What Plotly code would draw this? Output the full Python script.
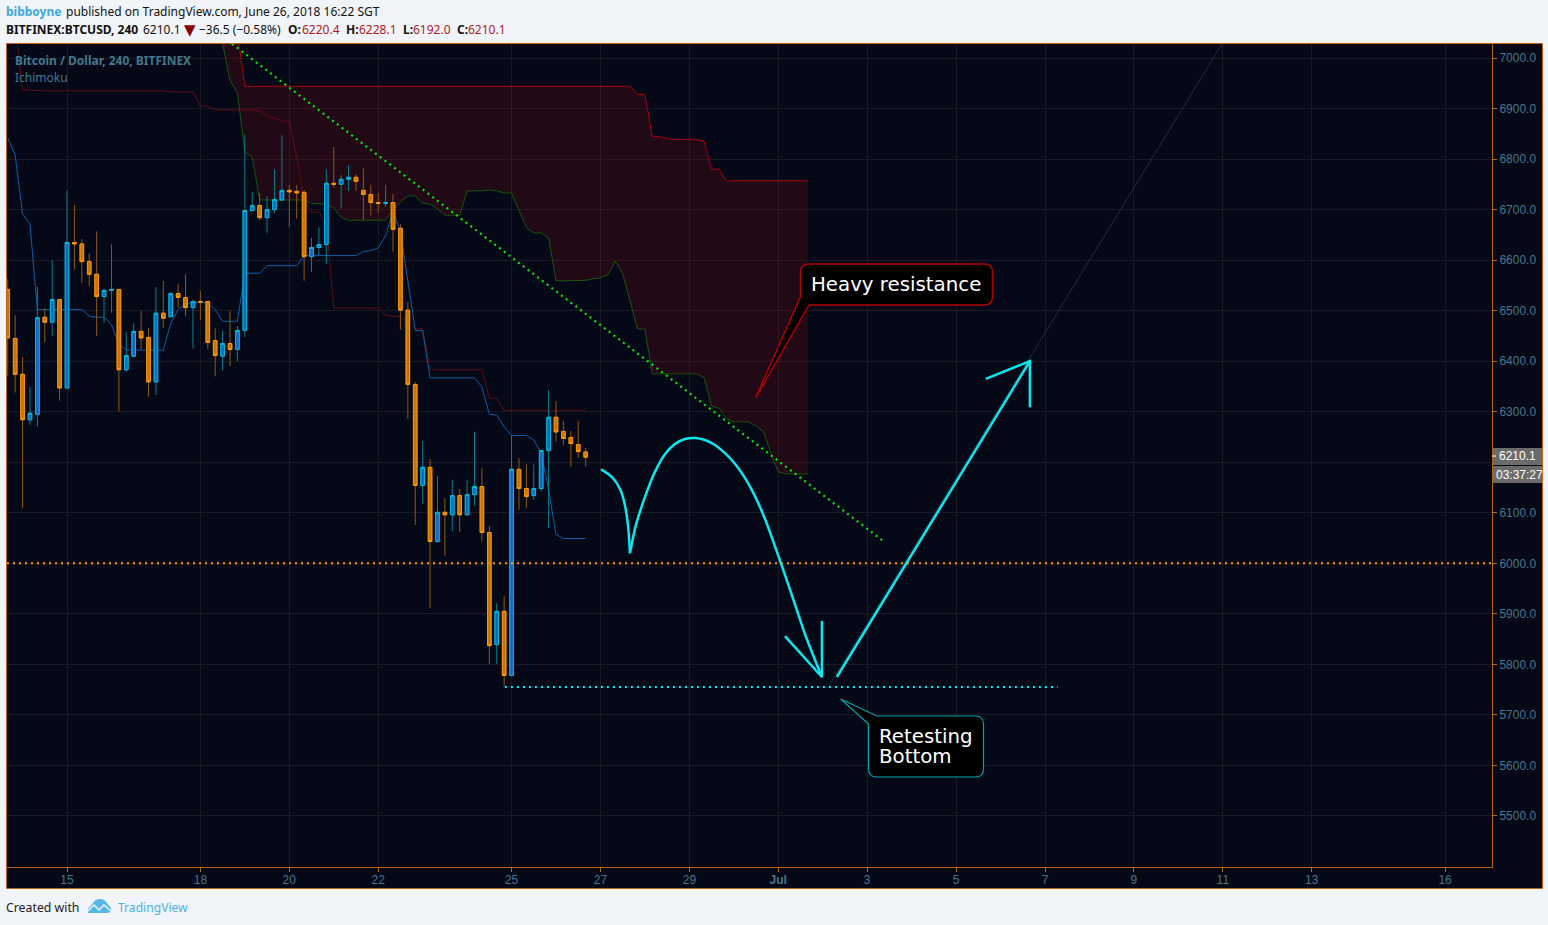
import plotly.graph_objects as go

# ---- candles (4h bars) ----
opens = [6542,6445,6374,6284,6295,6487,6477,6522,6347,6635,6632,6597,6572,6528,6540,6542,6383,6410,6459,6447,
         6359,6495,6488,6534,6526,6506,6518,6518,6441,6410,6435,6423,6461,6698,6708,6684,6700,6719,6738,6736,
         6734,6607,6625,6631,6752,6750,6760,6764,6738,6730,6714,6712,6714,6663,6501,6354,6154,6190,6043,6101,
         6096,6134,6096,6136,6152,6061,5839,5905,5778,6186,6148,6134,6148,6223,6289,6261,6249,6235,6220.4]
highs = [6562,6491,6408,6349,6547,6505,6600,6522,6737,6709,6642,6613,6657,6544,6631,6542,6457,6475,6499,6465,
         6547,6559,6536,6553,6572,6522,6539,6518,6465,6460,6499,6470,6849,6735,6732,6727,6780,6847,6749,6749,
         6739,6644,6665,6780,6824,6768,6788,6770,6782,6749,6733,6749,6731,6671,6517,6359,6242,6206,6173,6129,
         6165,6147,6165,6260,6188,6074,5921,5935,6253,6208,6196,6196,6225,6343,6321,6282,6262,6282,6228.1]
lows = [6371,6338,6109,6274,6270,6437,6450,6322,6347,6581,6555,6549,6450,6476,6496,6300,6379,6410,6424,6330,
        6333,6466,6486,6506,6489,6425,6481,6424,6370,6382,6390,6400,6448,6698,6679,6654,6692,6719,6665,6682,
        6559,6577,6609,6593,6743,6702,6737,6737,6680,6688,6694,6705,6617,6462,6286,6076,6118,5911,6043,6015,
        6063,6062,6096,6114,6043,5801,5801,5756,5776,6105,6109,6125,6142,6070,6241,6233,6191,6209,6192.0]
closes = [6446,6374,6284,6297,6486,6477,6522,6347,6635,6632,6597,6572,6528,6540,6542,6383,6411,6459,6446,6359,
          6495,6485,6534,6526,6506,6518,6517,6437,6411,6435,6423,6461,6698,6708,6684,6700,6720,6738,6735,6733,
          6607,6625,6631,6752,6750,6760,6764,6756,6730,6714,6712,6714,6661,6501,6354,6154,6190,6043,6101,6096,
          6134,6096,6136,6152,6061,5837,5905,5778,6186,6148,6132,6148,6223,6289,6260,6247,6237,6221,6210.1]

# ---- Ichimoku ----
conversion = [6842,6808,6692,6671,6502,6502,6502,6502,6502,6502,6502,6489,6487,6487,6472,6434,6422,6422,6422,6422,
              6422,6422,6475,6502,6514,6516,6516,6516,6502,6479,6479,6479,6574,6574,6574,6589,6589,6589,6589,6589,
              6609,6609,6609,6609,6609,6609,6609,6609,6617,6619,6624,6648,6697,6657,6559,6461,6461,6367,6367,6367,
              6367,6367,6367,6367,6349,6295,6293,6270,6253,6253,6253,6244,6218,6145,6057,6049,6049,6049,6049]
base_line = [7100,7067,6937,6936,6935,6935,6935,6935,6935,6935,6935,6935,6935,6935,6935,6935,6935,6935,6935,6935,
             6935,6935,6933,6933,6933,6933,6905,6905,6897,6897,6897,6897,6897,6897,6895,6885,6881,6875,6875,6804,
             6719,6695,6695,6673,6505,6505,6505,6505,6505,6505,6505,6491,6489,6489,6476,6464,6464,6383,6383,6383,
             6383,6383,6383,6383,6383,6327,6327,6303,6303,6303,6303,6303,6303,6303,6303,6303,6303,6303,6303]
cloud_start = 28
span_a = [7100,7028,6956,6931,6814,6804,6719,6719,6719,6719,6719,6719,6719,6712,6711,6711,6703,6685,6679,6679,
          6679,6679,6679,6679,6699,6715,6727,6727,6713,6711,6701,6689,6689,6689,6737,6737,6737,6739,6737,6733,
          6733,6699,6664,6654,6654,6644,6559,6559,6559,6559,6560,6563,6565,6571,6598,6573,6521,6464,6464,6375,
          6375,6375,6375,6375,6375,6375,6367,6311,6307,6287,6280,6280,6280,6272,6260,6218,6181,6177,6177,6177,6177]
span_b = [7250,7200,7166,7049,6944,6944,6944,6944,6944,6944,6944,6944,6944,6944,6944,6944,6944,6944,6944,6944,
          6944,6944,6944,6944,6944,6944,6944,6944,6944,6944,6944,6944,6944,6944,6944,6944,6944,6944,6944,6944,
          6944,6944,6944,6944,6944,6944,6944,6944,6944,6944,6944,6944,6944,6944,6944,6944,6944,6928,6928,6845,
          6844,6841,6839,6839,6839,6839,6835,6780,6780,6757,6757,6757,6757,6757,6757,6757,6757,6757,6757,6757,6757]

# ---- axis ----
date_ticks = [8,26,38,50,68,80,92,104,116,128,140,152,164,176,194]
date_labels = ["15","18","20","22","25","27","29","<b>Jul</b>","3","5","7","9","11","13","16"]
price_ticks = [5500,5600,5700,5800,5900,6000,6100,6200,6300,6400,6500,6600,6700,6800,6900,7000]
price_labels = ["5500.0","5600.0","5700.0","5800.0","5900.0","6000.0","6100.0","","6300.0","6400.0","6500.0","6600.0","6700.0","6800.0","6900.0","7000.0"]

# ---- drawings (bar position, price) ----
trend_x, trend_y = [30.27,118.0], [7028,6046]
level_x, level_y = [-0.1,200.33], [6000,6000]
bottom_x, bottom_y = [67.1,141.7], [5755,5755]
arc1_x = [80.07,81.6,82.7,83.3,83.71,83.98]
arc1_y = [6186,6170,6145,6115,6076,6020]
arc2_x = [83.98,84.79,86.0,87.35,88.7,90.05,91.4,92.75,94.1,95.45,96.8,98.15,99.5,100.85,102.2,103.55,104.9,106.25,107.6,108.95,109.89]
arc2_y = [6020,6076,6131,6181,6216,6236,6246,6248,6244,6234,6218,6197,6169,6133,6088,6034,5977,5919,5860,5809,5775]
head1_x, head1_y = [104.9,109.89,109.89], [5856,5775,5886]
rise_x, rise_y = [111.9,137.96], [5775,6400]
head2_x, head2_y = [132.0,137.96,137.96], [6365,6400,6309]
grey_x, grey_y = [110.8,163.9], [5757,7028]

X_RANGE = [-0.1,200.33]
Y_RANGE = [5399,7027.7]
BG = "#050817"
BORDER = "#b8651b"
GRID = "#191a23"
TEXT = "#44788c"
CYAN = "#0ce8f0"

W, H = 1548, 925
L, R, T, B = 7, 1492, 44, 867
def fx(p): return (p-L)/(R-L)
def fy(p): return (B-p)/(B-T)

fig = go.Figure()
bars = list(range(len(opens)))
cloud_bars = list(range(cloud_start, cloud_start+len(span_a)))

# layer 1: indicators
fig.add_trace(go.Scatter(x=cloud_bars, y=span_b, mode="lines", line=dict(color="#a80012", width=1), hoverinfo="skip"))
fig.add_trace(go.Scatter(x=cloud_bars, y=span_a, mode="lines", line=dict(color="#1c5412", width=1), hoverinfo="skip",
                         fill="tonexty", fillcolor="rgba(145,13,13,0.2)"))
fig.add_trace(go.Scatter(x=bars, y=base_line, mode="lines", line=dict(color="#620c14", width=1), hoverinfo="skip"))
fig.add_trace(go.Scatter(x=bars, y=conversion, mode="lines", line=dict(color="#0d5ea8", width=1), hoverinfo="skip"))

# layer 2: candles
fig.add_trace(go.Candlestick(x=bars, open=opens, high=highs, low=lows, close=closes, xaxis="x2", yaxis="y2",
    increasing=dict(line=dict(color="#0a7f8c", width=1), fillcolor="#0a7f8c"),
    decreasing=dict(line=dict(color="#8c5a14", width=1), fillcolor="#8c5a14"), hoverinfo="skip"))
tops = [max(o,c) for o,c in zip(opens,closes)]
bots = [min(o,c) for o,c in zip(opens,closes)]
fig.add_trace(go.Candlestick(x=bars, open=opens, high=tops, low=bots, close=closes, xaxis="x2", yaxis="y2",
    increasing=dict(line=dict(color="#00bcd4", width=1), fillcolor="#1566c4"),
    decreasing=dict(line=dict(color="#ff9800", width=1), fillcolor="#c87408"), hoverinfo="skip"))

# layer 3: drawings
def draw(x, y, color, width=2.5, dash=None, shape="linear", smoothing=1.0):
    fig.add_trace(go.Scatter(x=x, y=y, mode="lines", xaxis="x3", yaxis="y3", hoverinfo="skip",
                             line=dict(color=color, width=width, dash=dash, shape=shape,
                                       smoothing=smoothing if shape == "spline" else None)))
draw(grey_x, grey_y, "#2b2c36", 1)
draw(level_x, level_y, "#ff9800", 2, "2px,4px")
draw(trend_x, trend_y, "#0ee80e", 2.2, "2px,4px")
draw(bottom_x, bottom_y, "#00f4f4", 2, "2px,4px")
draw(arc1_x, arc1_y, CYAN, 2.5, None, "spline")
draw(arc2_x, arc2_y, CYAN, 2.5, None, "spline", 0.8)
draw(head1_x, head1_y, CYAN)
draw(rise_x, rise_y, CYAN)
draw(head2_x, head2_y, CYAN)

shapes = []
# chart panel behind everything
shapes.append(dict(type="rect", xref="paper", yref="paper", layer="below",
                   x0=fx(6.5), x1=fx(1542.5), y0=fy(43.5), y1=fy(888.5),
                   fillcolor=BG, line=dict(color=BORDER, width=1)))

# Heavy resistance callout
p = ("M %f %f L %f %f Q %f %f %f %f L %f %f Q %f %f %f %f L %f %f L %f %f L %f %f L %f %f Q %f %f %f %f Z" % (
    fx(809), fy(264), fx(984), fy(264), fx(992.5), fy(264), fx(992.5), fy(272),
    fx(992.5), fy(297), fx(992.5), fy(305), fx(984), fy(305),
    fx(809), fy(305), fx(755.7), fy(397.7), fx(800.5), fy(296.7),
    fx(800.5), fy(272), fx(800.5), fy(264), fx(809), fy(264)))
shapes.append(dict(type="path", xref="paper", yref="paper", path=p, fillcolor="#000000", line=dict(color="#b00008", width=1.5)))

# Retesting Bottom callout
p = ("M %f %f L %f %f Q %f %f %f %f L %f %f Q %f %f %f %f L %f %f Q %f %f %f %f L %f %f L %f %f L %f %f Z" % (
    fx(876.7), fy(716), fx(975), fy(716), fx(983.5), fy(716), fx(983.5), fy(724),
    fx(983.5), fy(769), fx(983.5), fy(777), fx(975), fy(777),
    fx(877), fy(777), fx(868.5), fy(777), fx(868.5), fy(769),
    fx(868.5), fy(724), fx(840.7), fy(699), fx(876.7), fy(716)))
shapes.append(dict(type="path", xref="paper", yref="paper", path=p, fillcolor="#000000", line=dict(color="#00a4ac", width=1.2)))

# price labels on the scale
shapes.append(dict(type="rect", xref="paper", yref="paper", x0=fx(1493), x1=fx(1542), y0=fy(448), y1=fy(465),
                   fillcolor="#6b6b6b", line=dict(width=0)))
shapes.append(dict(type="rect", xref="paper", yref="paper", x0=fx(1493), x1=fx(1542), y0=fy(466), y1=fy(483),
                   fillcolor="#6b6b6b", line=dict(width=0)))
shapes.append(dict(type="line", xref="paper", yref="paper", x0=fx(1492), x1=fx(1496), y0=fy(456), y1=fy(456),
                   line=dict(color="#ffffff", width=1)))

# TradingView logo
p = ("M %f %f L %f %f Q %f %f %f %f Q %f %f %f %f L %f %f Q %f %f %f %f L %f %f L %f %f Z" % (
    fx(88), fy(909), fx(93), fy(903), fx(95), fy(899), fx(100), fy(899), fx(104), fy(899), fx(106), fy(902),
    fx(111), fy(908), fx(112), fy(913), fx(106), fy(913), fx(94), fy(913), fx(88), fy(913)))
shapes.append(dict(type="path", xref="paper", yref="paper", path=p, fillcolor="#56b8e6", line=dict(width=0)))
p = "M %f %f L %f %f L %f %f L %f %f L %f %f" % (
    fx(88), fy(911), fx(94), fy(905), fx(99), fy(910), fx(104), fy(905), fx(111), fy(911))
shapes.append(dict(type="path", xref="paper", yref="paper", path=p, line=dict(color="#f1f4f8", width=1.5)))

UI = "Noto Sans"
ann = []
def label(px, py, text, color="#111111", size=12, font=UI, anchor="left", bold=False):
    ann.append(dict(xref="paper", yref="paper", x=fx(px), y=fy(py), text=("<b>%s</b>" % text) if bold else text,
                    showarrow=False, xanchor=anchor, yanchor="middle", borderpad=0, borderwidth=0,
                    font=dict(color=color, size=size, family=font)))

label(6, 11, "bibboyne", "#3fa9e0", bold=True)
label(66, 11, "published on TradingView.com, June 26, 2018 16:22 SGT")
label(6, 29.5, "BITFINEX:BTCUSD, 240", bold=True)
label(143, 29.5, "6210.1")
label(184, 30, "▼", "#8b0000", 15, "DejaVu Sans")
label(199, 29.5, "−36.5 (−0.58%)")
DOWN = "#b0181c"
label(288, 29.5, "O:", bold=True); label(302, 29.5, "6220.4", DOWN)
label(346, 29.5, "H:", bold=True); label(359, 29.5, "6228.1", DOWN)
label(403, 29.5, "L:", bold=True); label(413, 29.5, "6192.0", DOWN)
label(457, 29.5, "C:", bold=True); label(468, 29.5, "6210.1", DOWN)
label(15, 60, "Bitcoin / Dollar, 240, BITFINEX", TEXT, bold=True)
label(15, 77.5, "Ichimoku", TEXT)
label(811, 284, "Heavy resistance", "#ffffff", 19.8, "DejaVu Sans")
label(879, 736, "Retesting", "#ffffff", 19.8, "DejaVu Sans")
label(879, 756, "Bottom", "#ffffff", 19.8, "DejaVu Sans")
label(1517.5, 456, "6210.1", "#ffffff", 12, "Liberation Sans", "center")
label(1496, 475, "03:37:27", "#ffffff", 12, "Liberation Sans")
label(6, 907, "Created with", "#222222", 12.3)
label(118, 907, "TradingView", "#4db2e6", 12.1)

overlay = dict(visible=False, fixedrange=True)
fig.update_layout(
    width=W, height=H, autosize=False, showlegend=False,
    margin=dict(l=L, r=W-R, t=T, b=H-B, pad=0),
    paper_bgcolor="#f1f4f8", plot_bgcolor="rgba(0,0,0,0)",
    boxmode="overlay", boxgap=0.3,
    font=dict(family="Liberation Sans", size=12, color=TEXT),
    shapes=shapes, annotations=ann,
    xaxis=dict(range=X_RANGE, tickmode="array", tickvals=date_ticks, ticktext=date_labels, showgrid=True, gridcolor=GRID,
               gridwidth=1, zeroline=False, showline=True, linecolor=BORDER, linewidth=1, ticks="outside", ticklen=4,
               tickcolor=BORDER, rangeslider=dict(visible=False), tickfont=dict(size=12, color=TEXT), ticklabelstandoff=-2),
    yaxis=dict(range=Y_RANGE, side="right", tickmode="array", tickvals=price_ticks, ticktext=price_labels, showgrid=True,
               gridcolor=GRID, gridwidth=1, zeroline=False, showline=True, linecolor=BORDER, linewidth=1, ticks="outside",
               ticklen=4, tickcolor=BORDER, tickfont=dict(size=12, color=TEXT)),
    xaxis2=dict(overlaying="x", range=X_RANGE, rangeslider=dict(visible=False), **overlay),
    yaxis2=dict(overlaying="y", range=Y_RANGE, side="right", **overlay),
    xaxis3=dict(overlaying="x", range=X_RANGE, **overlay),
    yaxis3=dict(overlaying="y", range=Y_RANGE, side="right", **overlay),
)
fig.write_html("out.html", config=dict(displayModeBar=False),
               post_script="document.body.style.margin='0';document.body.style.overflow='hidden';")
